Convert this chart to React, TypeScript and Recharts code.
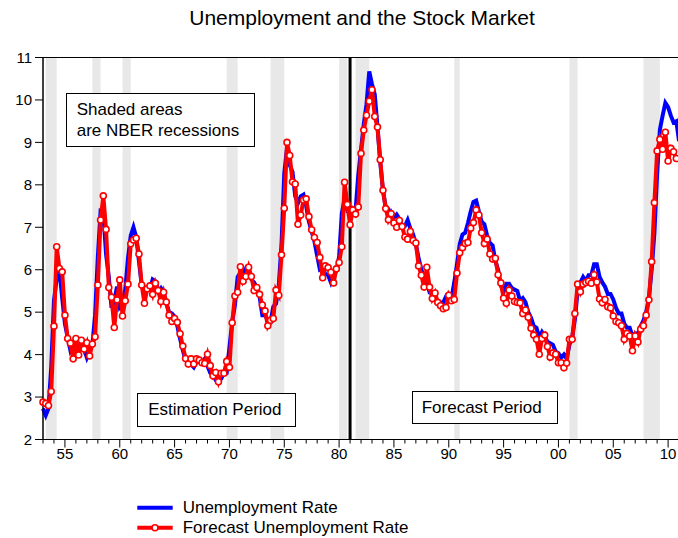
import { LineChart, Line, XAxis, YAxis, ReferenceArea, ReferenceLine } from 'recharts'

const font = '"Liberation Sans", Arial, sans-serif'

const startYear = 1953

// quarterly unemployment rate, 1953Q1 .. 2011Q1
const unemployment = [
  2.73, 2.57, 2.73, 3.7, 5.27, 5.8, 5.97, 5.33, 4.73, 4.4, 4.1, 4.23,
  4.03, 4.2, 4.13, 4.13, 3.93, 4.1, 4.23, 4.93, 6.3, 7.37, 7.33, 6.37,
  5.83, 5.1, 5.27, 5.6, 5.13, 5.23, 5.53, 6.27, 6.8, 7.0, 6.77, 6.2,
  5.63, 5.53, 5.57, 5.53, 5.77, 5.73, 5.5, 5.57, 5.47, 5.2, 5.0, 4.97,
  4.9, 4.67, 4.37, 4.1, 3.87, 3.83, 3.77, 3.7, 3.83, 3.83, 3.8, 3.9,
  3.73, 3.57, 3.53, 3.4, 3.4, 3.43, 3.57, 3.57, 4.17, 4.77, 5.17, 5.83,
  5.93, 5.9, 6.03, 5.93, 5.77, 5.7, 5.57, 5.37, 4.93, 4.93, 4.8, 4.77,
  5.13, 5.2, 5.63, 6.6, 8.27, 8.87, 8.47, 8.3, 7.73, 7.57, 7.73, 7.77,
  7.5, 7.13, 6.9, 6.67, 6.33, 6.0, 6.03, 5.9, 5.87, 5.7, 5.87, 5.97,
  6.3, 7.33, 7.67, 7.4, 7.43, 7.4, 7.4, 8.23, 8.83, 9.43, 9.9, 10.67,
  10.37, 10.13, 9.37, 8.53, 7.87, 7.47, 7.43, 7.3, 7.23, 7.3, 7.2, 7.03,
  7.03, 7.17, 6.97, 6.83, 6.6, 6.27, 6.0, 5.83, 5.7, 5.47, 5.47, 5.33,
  5.2, 5.23, 5.23, 5.37, 5.3, 5.33, 5.7, 6.13, 6.6, 6.83, 6.87, 7.1,
  7.37, 7.6, 7.63, 7.37, 7.13, 7.07, 6.8, 6.63, 6.57, 6.2, 6.0, 5.63,
  5.47, 5.67, 5.67, 5.57, 5.53, 5.5, 5.27, 5.33, 5.23, 5.0, 4.87, 4.67,
  4.63, 4.4, 4.53, 4.43, 4.3, 4.27, 4.23, 4.07, 4.03, 3.93, 4.0, 3.9,
  4.23, 4.4, 4.83, 5.5, 5.7, 5.83, 5.73, 5.87, 5.87, 6.13, 6.13, 5.83,
  5.7, 5.6, 5.43, 5.43, 5.3, 5.1, 4.97, 4.97, 4.73, 4.63, 4.63, 4.43,
  4.5, 4.5, 4.67, 4.8, 5.0, 5.33, 6.0, 6.87, 8.27, 9.3, 9.63, 9.93,
  9.83, 9.63, 9.47, 9.5, 9.03,
]

// forecast unemployment rate, 1953Q1 .. 2010Q4
const forecast = [
  2.88, 2.85, 2.8, 3.13, 4.67, 6.54, 6.03, 5.95, 4.93, 4.38, 4.27, 3.9,
  4.38, 3.99, 4.34, 4.13, 4.28, 3.97, 4.25, 4.42, 5.64, 7.17, 7.74, 6.95,
  5.58, 5.35, 4.64, 5.29, 5.76, 4.91, 5.27, 5.66, 6.61, 6.7, 6.74, 6.37,
  5.64, 5.21, 5.55, 5.62, 5.42, 5.68, 5.51, 5.25, 5.47, 5.24, 4.93, 4.78,
  4.85, 4.76, 4.49, 4.2, 3.91, 3.78, 3.9, 3.78, 3.9, 3.87, 3.81, 3.79,
  4.01, 3.74, 3.5, 3.58, 3.36, 3.56, 3.56, 3.84, 3.7, 4.75, 5.38, 5.47,
  6.07, 5.73, 5.84, 6.06, 5.84, 5.51, 5.58, 5.42, 5.17, 5.03, 4.68, 4.81,
  4.85, 5.52, 5.4, 6.35, 7.45, 9.0, 8.69, 8.07, 8.02, 7.07, 7.29, 7.64,
  7.67, 7.25, 6.94, 6.76, 6.64, 6.29, 5.81, 6.09, 6.05, 5.94, 5.69, 6.02,
  6.17, 6.54, 8.06, 7.54, 7.06, 7.41, 7.31, 7.48, 8.74, 9.29, 9.64, 9.97,
  10.24, 9.61, 9.36, 8.59, 7.87, 7.44, 7.18, 7.32, 7.1, 7.0, 7.16, 7.02,
  6.77, 6.72, 6.9, 6.69, 6.63, 6.09, 5.87, 5.59, 6.06, 5.59, 5.32, 5.45,
  5.23, 5.15, 5.08, 5.11, 5.4, 5.27, 5.3, 5.92, 6.4, 6.52, 6.62, 6.64,
  6.98, 7.11, 7.41, 7.29, 6.87, 6.62, 6.72, 6.37, 6.25, 6.27, 5.88, 5.69,
  5.33, 5.21, 5.52, 5.38, 5.25, 5.23, 5.22, 4.97, 5.05, 4.88, 4.62, 4.46,
  4.36, 4.01, 4.38, 4.46, 4.19, 3.94, 4.04, 4.01, 3.81, 3.81, 3.69, 3.8,
  4.36, 4.36, 4.97, 5.66, 5.48, 5.66, 5.7, 5.73, 5.68, 5.88, 5.71, 5.31,
  5.22, 5.3, 5.13, 5.1, 4.91, 4.78, 4.75, 4.68, 4.36, 4.5, 4.44, 4.09,
  4.44, 4.3, 4.6, 4.68, 4.93, 5.29, 6.19, 7.58, 8.8, 9.07, 8.84, 9.24,
  8.56, 8.86, 8.78, 8.62,
]

// NBER recessions (start, end) in decimal years
const recessions = [
  [1953.25, 1954.25],
  [1957.5, 1958.25],
  [1960.25, 1961],
  [1969.75, 1970.75],
  [1973.75, 1975],
  [1980, 1980.75],
  [1981.5, 1982.75],
  [1990.5, 1991],
  [2001, 2001.75],
  [2007.75, 2009.25],
]

const forecastStart = 1981
const yTicks = [2, 3, 4, 5, 6, 7, 8, 9, 10, 11]
const yearTicks = Array.from({ length: 60 }, (_, i) => startYear + i)

const data = unemployment.map((u, i) => ({
  date: startYear + i / 4,
  u,
  f: i < forecast.length ? forecast[i] : null,
}))

function YearTick(props: any) {
  const { x, y, payload } = props
  const year = payload.value
  const major = year % 5 === 0
  return (
    <g>
      <line x1={x} x2={x} y1={y} y2={y + (major ? 8 : 4)} stroke="#000" />
      {major && (
        <text x={x} y={y + 19} textAnchor="middle" fontSize={15} fill="#000" fontFamily={font}>
          {String(year % 100).padStart(2, '0')}
        </text>
      )}
    </g>
  )
}

const boxStyle: React.CSSProperties = {
  position: 'absolute',
  border: '1px solid #000',
  background: '#fff',
  boxSizing: 'border-box',
  fontSize: 17,
  lineHeight: '20.6px',
  whiteSpace: 'nowrap',
}

export default function App() {
  return (
    <div style={{ position: 'relative', width: 678, height: 538, overflow: 'hidden', fontFamily: font, color: '#000' }}>
      <style>{'body { margin: 0; }'}</style>
      <div style={{ position: 'absolute', left: 8, top: 8, width: 693, height: 530 }}>
        <div style={{ position: 'absolute', left: 154, width: 400, top: 0, textAlign: 'center', fontSize: 21, lineHeight: '20.8px', whiteSpace: 'nowrap' }}>
          Unemployment and the Stock Market
        </div>
        <LineChart width={693} height={530} data={data} margin={{ top: 49.5, right: 0, bottom: 0, left: 0 }}>
          <XAxis
            dataKey="date"
            type="number"
            domain={[1953, 2013]}
            ticks={yearTicks}
            interval={0}
            tick={<YearTick />}
            tickLine={false}
            tickSize={0}
            tickMargin={0}
            axisLine={{ stroke: '#000' }}
            height={98.5}
          />
          <YAxis
            domain={[2, 11]}
            ticks={yTicks}
            interval={0}
            width={35}
            tickSize={8}
            tickMargin={3}
            tick={{ fontSize: 15, fill: '#000', fontFamily: font }}
            axisLine={{ stroke: '#000' }}
            tickLine={{ stroke: '#000' }}
          />
          {recessions.map(([a, b]) => (
            <ReferenceArea key={a} x1={a} x2={b} y1={2} y2={11} fill="#e8e8e8" fillOpacity={1} stroke="none" />
          ))}
          <ReferenceArea x1={1953} x2={2013} y1={2} y2={11} fill="none" stroke="#000" />
          <ReferenceLine x={forecastStart} stroke="#000" strokeWidth={3} />
          <Line dataKey="u" stroke="#0000ff" strokeWidth={4} dot={false} isAnimationActive={false} />
          <Line
            dataKey="f"
            stroke="#ff0000"
            strokeWidth={4}
            dot={{ r: 3, fill: '#fff', stroke: '#ff0000', strokeWidth: 1.6 }}
            isAnimationActive={false}
          />
        </LineChart>

        <div style={{ ...boxStyle, left: 58, top: 84.7, width: 189, height: 54, padding: '6.8px 0 0 9.7px' }}>
          Shaded areas
          <br />
          are NBER recessions
        </div>
        <div style={{ ...boxStyle, left: 128.7, top: 385.3, width: 159.3, height: 33.4, padding: '6.2px 0 0 10.6px' }}>
          Estimation Period
        </div>
        <div style={{ ...boxStyle, left: 403.7, top: 382.7, width: 146.6, height: 33.3, padding: '6.1px 0 0 9px' }}>
          Forecast Period
        </div>

        <svg style={{ position: 'absolute', left: 125, top: 490 }} width={50} height={40}>
          <line x1={4.3} x2={39.7} y1={9.7} y2={9.7} stroke="#0000ff" strokeWidth={4} />
          <line x1={4.3} x2={39.7} y1={29.7} y2={29.7} stroke="#ff0000" strokeWidth={4} />
          <circle cx={22} cy={29.7} r={3} fill="#fff" stroke="#ff0000" strokeWidth={1.6} />
        </svg>
        <div style={{ position: 'absolute', left: 174.7, top: 489.8, fontSize: 17, lineHeight: '20.6px', whiteSpace: 'nowrap' }}>
          Unemployment Rate
        </div>
        <div style={{ position: 'absolute', left: 174.7, top: 510.1, fontSize: 17, lineHeight: '20.6px', whiteSpace: 'nowrap' }}>
          Forecast Unemployment Rate
        </div>
      </div>
    </div>
  )
}
